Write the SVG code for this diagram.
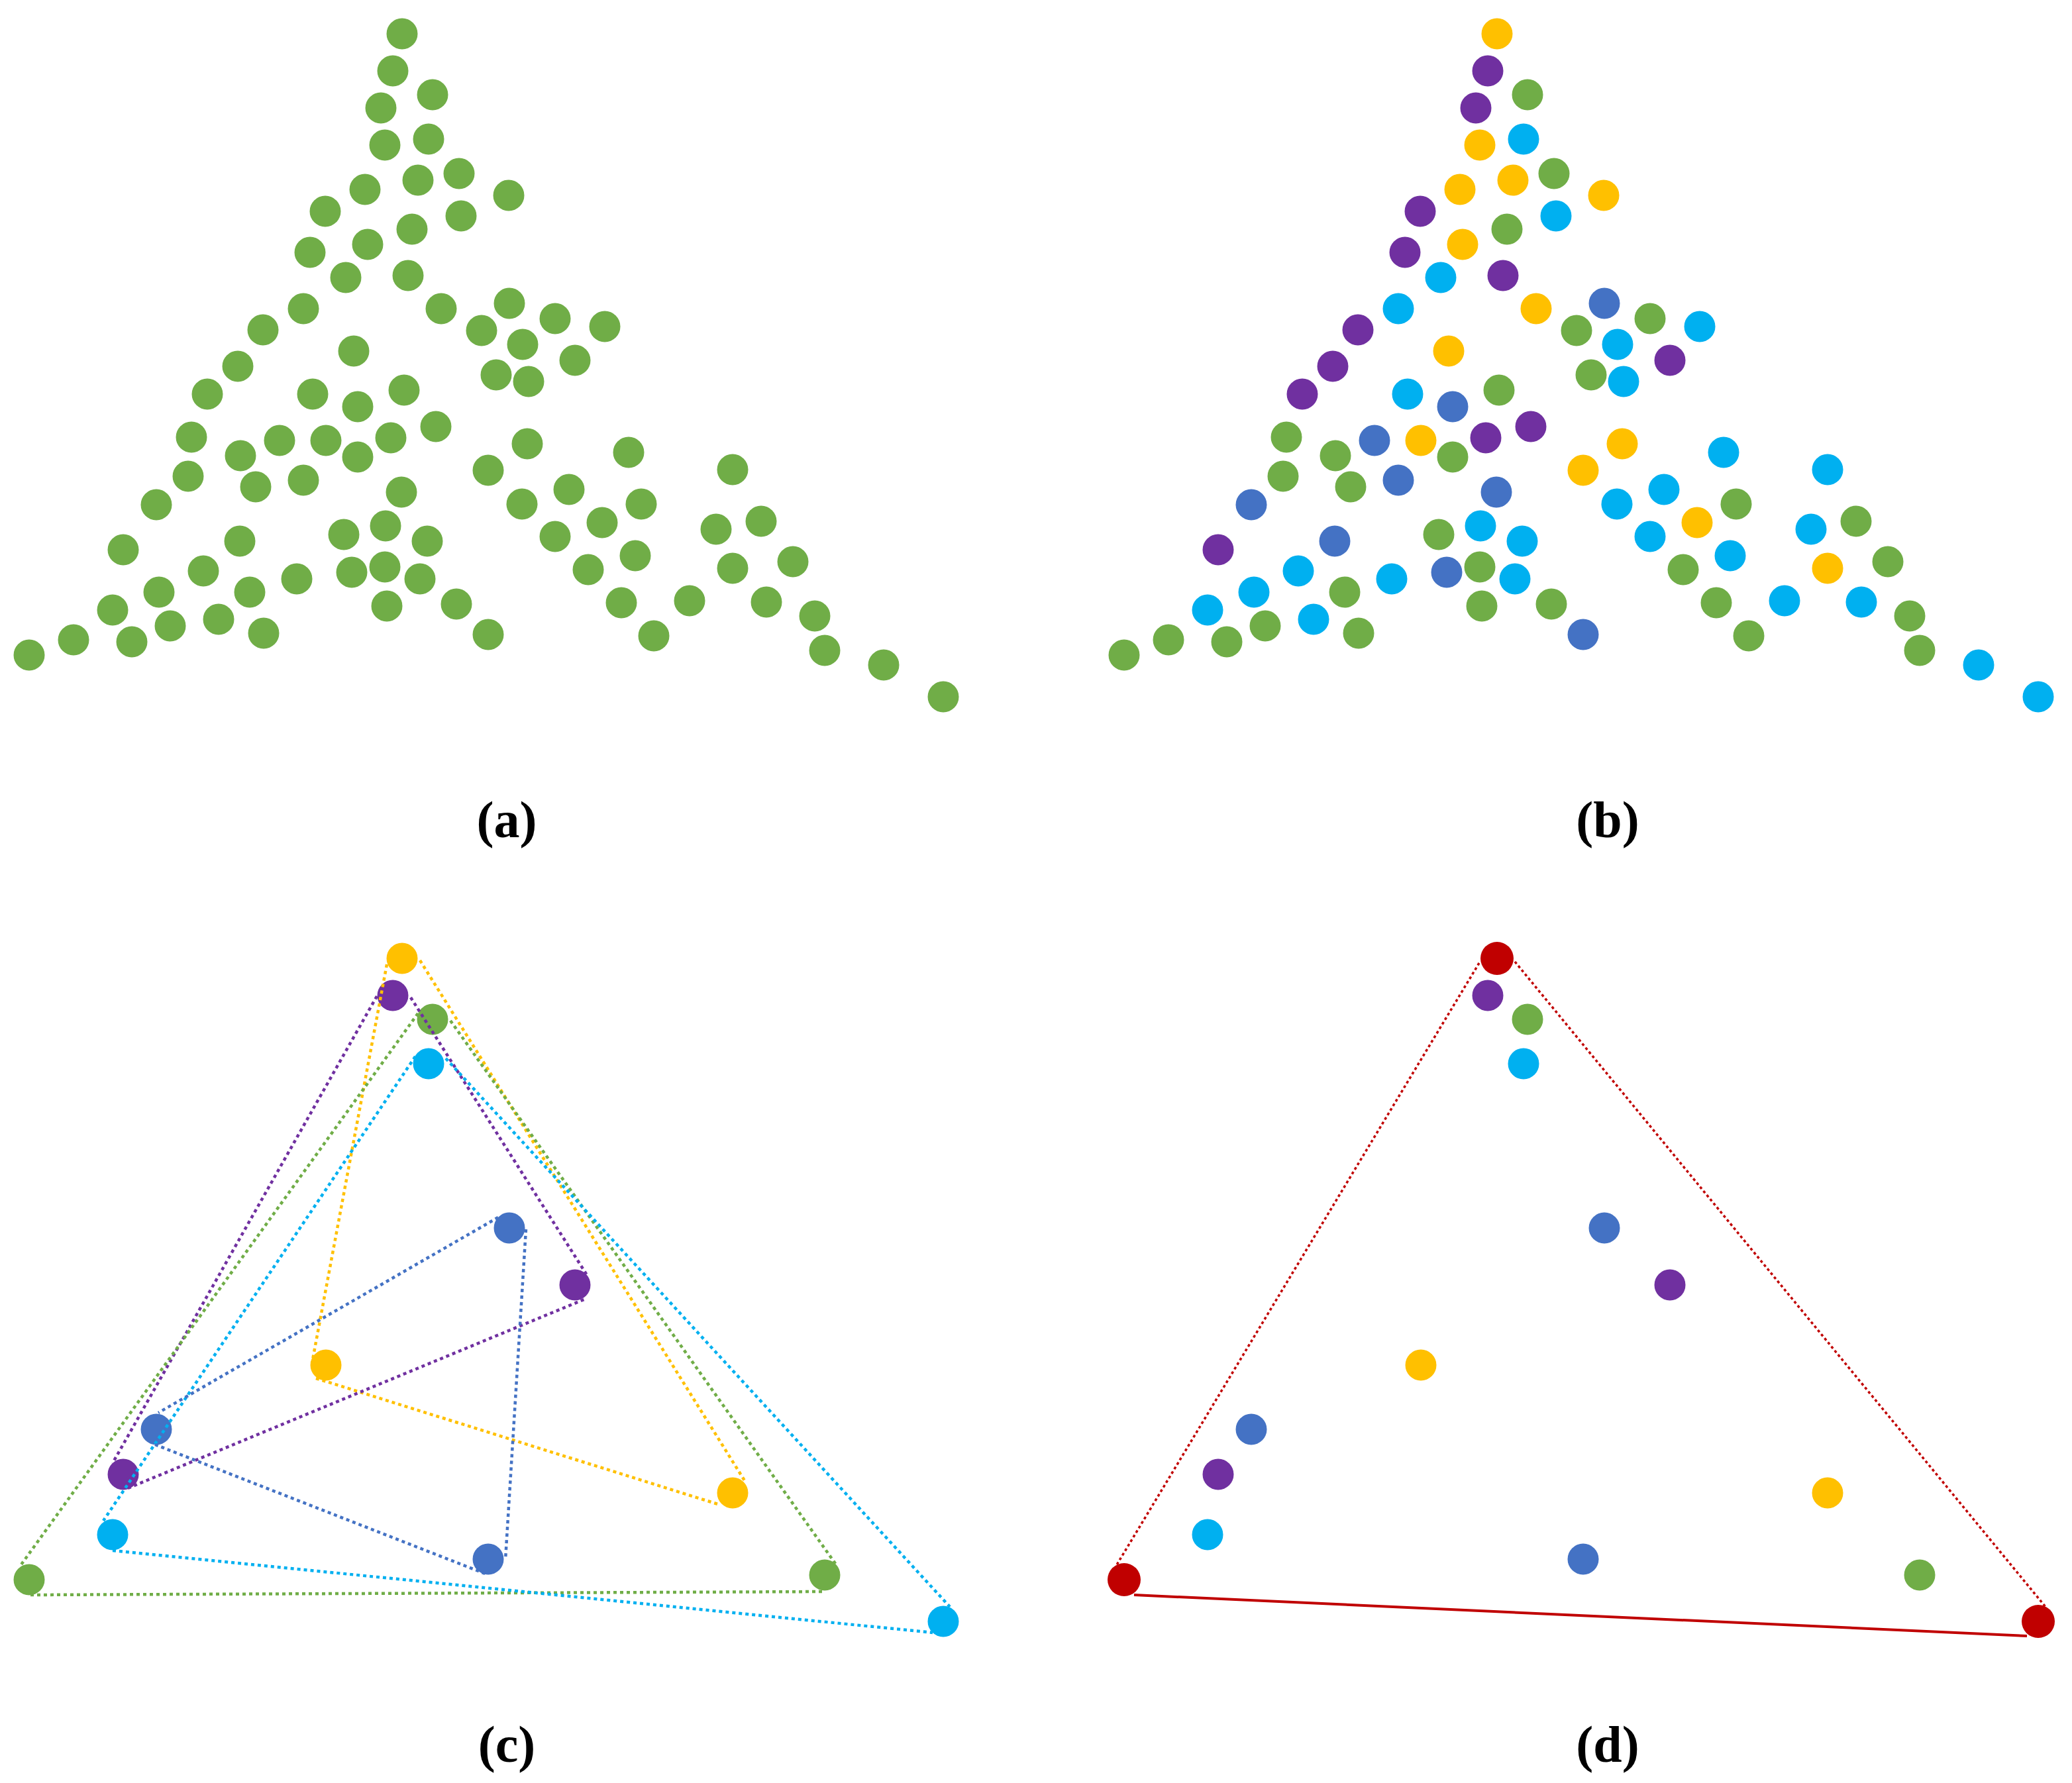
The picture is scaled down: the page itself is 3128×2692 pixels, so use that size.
<svg xmlns="http://www.w3.org/2000/svg" width="3128" height="2692" viewBox="0 0 3128 2692">
<style>
.g{fill:#70AD47}.y{fill:#FFC000}.p{fill:#7030A0}.c{fill:#00B0F0}.b{fill:#4472C4}.r{fill:#C00000}
circle{stroke:none}
.ln{fill:none;stroke-width:4.5;stroke-dasharray:5 5}
.lbl{font-family:"Liberation Serif","Times New Roman",serif;font-weight:bold;font-size:78px;text-anchor:middle;fill:#000}
</style>
<defs>
<circle id="d" r="23.5"/>
</defs>
<rect width="3128" height="2692" fill="#fff"/>

<g id="panel-a" class="g" transform="translate(-1653,0)">
<g id="a1"><use href="#d" x="2260" y="51"/></g>
<g id="a2"><use href="#d" x="2246" y="107"/></g>
<g id="a3"><use href="#d" x="2306" y="143"/></g>
<g id="a4"><use href="#d" x="2228" y="163"/></g>
<g id="a5"><use href="#d" x="2234" y="219"/></g>
<g id="a6"><use href="#d" x="2300" y="210"/></g>
<g id="a7"><use href="#d" x="2346" y="262"/></g>
<g id="a8"><use href="#d" x="2284" y="272"/></g>
<g id="a9"><use href="#d" x="2204" y="286"/></g>
<g id="a10"><use href="#d" x="2144" y="319"/></g>
<g id="a11"><use href="#d" x="2349" y="326"/></g>
<g id="a12"><use href="#d" x="2275" y="346"/></g>
<g id="a13"><use href="#d" x="2208" y="369"/></g>
<g id="a14"><use href="#d" x="2121" y="381"/></g>
<g id="a15"><use href="#d" x="2175" y="419"/></g>
<g id="a16"><use href="#d" x="2269" y="416"/></g>
<g id="a17"><use href="#d" x="2319" y="466"/></g>
<g id="a18"><use href="#d" x="2111" y="466"/></g>
<g id="a19"><use href="#d" x="2050" y="498"/></g>
<g id="a20"><use href="#d" x="2380" y="499"/></g>
<g id="a21"><use href="#d" x="2187" y="530"/></g>
<g id="a22"><use href="#d" x="2012" y="553"/></g>
<g id="a23"><use href="#d" x="2421" y="295"/></g>
<g id="a24"><use href="#d" x="2422" y="458"/></g>
<g id="a25"><use href="#d" x="2491" y="481"/></g>
<g id="a26"><use href="#d" x="2566" y="493"/></g>
<g id="a27"><use href="#d" x="2442" y="520"/></g>
<g id="a28"><use href="#d" x="2521" y="544"/></g>
<g id="a29"><use href="#d" x="2402" y="566"/></g>
<g id="a30"><use href="#d" x="2451" y="576"/></g>
<g id="a31"><use href="#d" x="1966" y="595"/></g>
<g id="a32"><use href="#d" x="2125" y="595"/></g>
<g id="a33"><use href="#d" x="2263" y="589"/></g>
<g id="a34"><use href="#d" x="2193" y="614"/></g>
<g id="a35"><use href="#d" x="2311" y="644"/></g>
<g id="a36"><use href="#d" x="1942" y="660"/></g>
<g id="a37"><use href="#d" x="2016" y="688"/></g>
<g id="a38"><use href="#d" x="2075" y="665"/></g>
<g id="a39"><use href="#d" x="2145" y="665"/></g>
<g id="a40"><use href="#d" x="2243" y="661"/></g>
<g id="a41"><use href="#d" x="2193" y="690"/></g>
<g id="a42"><use href="#d" x="2390" y="710"/></g>
<g id="a43"><use href="#d" x="1937" y="719"/></g>
<g id="a44"><use href="#d" x="2039" y="735"/></g>
<g id="a45"><use href="#d" x="2111" y="725"/></g>
<g id="a46"><use href="#d" x="2259" y="743"/></g>
<g id="a47"><use href="#d" x="1889" y="762"/></g>
<g id="a48"><use href="#d" x="2172" y="807"/></g>
<g id="a49"><use href="#d" x="2235" y="794"/></g>
<g id="a50"><use href="#d" x="2298" y="817"/></g>
<g id="a51"><use href="#d" x="1839" y="830"/></g>
<g id="a52"><use href="#d" x="2015" y="817"/></g>
<g id="a53"><use href="#d" x="1960" y="862"/></g>
<g id="a54"><use href="#d" x="2184" y="864"/></g>
<g id="a55"><use href="#d" x="2234" y="856"/></g>
<g id="a56"><use href="#d" x="2287" y="874"/></g>
<g id="a57"><use href="#d" x="2101" y="874"/></g>
<g id="a58"><use href="#d" x="1893" y="894"/></g>
<g id="a59"><use href="#d" x="2030" y="894"/></g>
<g id="a60"><use href="#d" x="1823" y="921"/></g>
<g id="a61"><use href="#d" x="2342" y="912"/></g>
<g id="a62"><use href="#d" x="2237" y="915"/></g>
<g id="a63"><use href="#d" x="1910" y="945"/></g>
<g id="a64"><use href="#d" x="1983" y="935"/></g>
<g id="a65"><use href="#d" x="2390" y="958"/></g>
<g id="a66"><use href="#d" x="2051" y="956"/></g>
<g id="a67"><use href="#d" x="1764" y="966"/></g>
<g id="a68"><use href="#d" x="1852" y="969"/></g>
<g id="a69"><use href="#d" x="1697" y="989"/></g>
<g id="a70"><use href="#d" x="2449" y="670"/></g>
<g id="a71"><use href="#d" x="2602" y="683"/></g>
<g id="a72"><use href="#d" x="2759" y="709"/></g>
<g id="a73"><use href="#d" x="2512" y="739"/></g>
<g id="a74"><use href="#d" x="2621" y="761"/></g>
<g id="a75"><use href="#d" x="2441" y="761"/></g>
<g id="a76"><use href="#d" x="2562" y="789"/></g>
<g id="a77"><use href="#d" x="2734" y="799"/></g>
<g id="a78"><use href="#d" x="2802" y="787"/></g>
<g id="a79"><use href="#d" x="2491" y="810"/></g>
<g id="a80"><use href="#d" x="2612" y="839"/></g>
<g id="a81"><use href="#d" x="2541" y="860"/></g>
<g id="a82"><use href="#d" x="2759" y="858"/></g>
<g id="a83"><use href="#d" x="2850" y="848"/></g>
<g id="a84"><use href="#d" x="2591" y="910"/></g>
<g id="a85"><use href="#d" x="2694" y="907"/></g>
<g id="a86"><use href="#d" x="2810" y="909"/></g>
<g id="a87"><use href="#d" x="2883" y="930"/></g>
<g id="a88"><use href="#d" x="2640" y="960"/></g>
<g id="a89"><use href="#d" x="2898" y="982"/></g>
<g id="a90"><use href="#d" x="2987" y="1004"/></g>
<g id="a91"><use href="#d" x="3077" y="1052"/></g>
</g>

<g id="panel-b">
<g id="b1" class="y"><use href="#d" x="2260" y="51"/></g>
<g id="b2" class="p"><use href="#d" x="2246" y="107"/></g>
<g id="b3" class="g"><use href="#d" x="2306" y="143"/></g>
<g id="b4" class="p"><use href="#d" x="2228" y="163"/></g>
<g id="b5" class="y"><use href="#d" x="2234" y="219"/></g>
<g id="b6" class="c"><use href="#d" x="2300" y="210"/></g>
<g id="b7" class="g"><use href="#d" x="2346" y="262"/></g>
<g id="b8" class="y"><use href="#d" x="2284" y="272"/></g>
<g id="b9" class="y"><use href="#d" x="2204" y="286"/></g>
<g id="b10" class="p"><use href="#d" x="2144" y="319"/></g>
<g id="b11" class="c"><use href="#d" x="2349" y="326"/></g>
<g id="b12" class="g"><use href="#d" x="2275" y="346"/></g>
<g id="b13" class="y"><use href="#d" x="2208" y="369"/></g>
<g id="b14" class="p"><use href="#d" x="2121" y="381"/></g>
<g id="b15" class="c"><use href="#d" x="2175" y="419"/></g>
<g id="b16" class="p"><use href="#d" x="2269" y="416"/></g>
<g id="b17" class="y"><use href="#d" x="2319" y="466"/></g>
<g id="b18" class="c"><use href="#d" x="2111" y="466"/></g>
<g id="b19" class="p"><use href="#d" x="2050" y="498"/></g>
<g id="b20" class="g"><use href="#d" x="2380" y="499"/></g>
<g id="b21" class="y"><use href="#d" x="2187" y="530"/></g>
<g id="b22" class="p"><use href="#d" x="2012" y="553"/></g>
<g id="b23" class="y"><use href="#d" x="2421" y="295"/></g>
<g id="b24" class="b"><use href="#d" x="2422" y="458"/></g>
<g id="b25" class="g"><use href="#d" x="2491" y="481"/></g>
<g id="b26" class="c"><use href="#d" x="2566" y="493"/></g>
<g id="b27" class="c"><use href="#d" x="2442" y="520"/></g>
<g id="b28" class="p"><use href="#d" x="2521" y="544"/></g>
<g id="b29" class="g"><use href="#d" x="2402" y="566"/></g>
<g id="b30" class="c"><use href="#d" x="2451" y="576"/></g>
<g id="b31" class="p"><use href="#d" x="1966" y="595"/></g>
<g id="b32" class="c"><use href="#d" x="2125" y="595"/></g>
<g id="b33" class="g"><use href="#d" x="2263" y="589"/></g>
<g id="b34" class="b"><use href="#d" x="2193" y="614"/></g>
<g id="b35" class="p"><use href="#d" x="2311" y="644"/></g>
<g id="b36" class="g"><use href="#d" x="1942" y="660"/></g>
<g id="b37" class="g"><use href="#d" x="2016" y="688"/></g>
<g id="b38" class="b"><use href="#d" x="2075" y="665"/></g>
<g id="b39" class="y"><use href="#d" x="2145" y="665"/></g>
<g id="b40" class="p"><use href="#d" x="2243" y="661"/></g>
<g id="b41" class="g"><use href="#d" x="2193" y="690"/></g>
<g id="b42" class="y"><use href="#d" x="2390" y="710"/></g>
<g id="b43" class="g"><use href="#d" x="1937" y="719"/></g>
<g id="b44" class="g"><use href="#d" x="2039" y="735"/></g>
<g id="b45" class="b"><use href="#d" x="2111" y="725"/></g>
<g id="b46" class="b"><use href="#d" x="2259" y="743"/></g>
<g id="b47" class="b"><use href="#d" x="1889" y="762"/></g>
<g id="b48" class="g"><use href="#d" x="2172" y="807"/></g>
<g id="b49" class="c"><use href="#d" x="2235" y="794"/></g>
<g id="b50" class="c"><use href="#d" x="2298" y="817"/></g>
<g id="b51" class="p"><use href="#d" x="1839" y="830"/></g>
<g id="b52" class="b"><use href="#d" x="2015" y="817"/></g>
<g id="b53" class="c"><use href="#d" x="1960" y="862"/></g>
<g id="b54" class="b"><use href="#d" x="2184" y="864"/></g>
<g id="b55" class="g"><use href="#d" x="2234" y="856"/></g>
<g id="b56" class="c"><use href="#d" x="2287" y="874"/></g>
<g id="b57" class="c"><use href="#d" x="2101" y="874"/></g>
<g id="b58" class="c"><use href="#d" x="1893" y="894"/></g>
<g id="b59" class="g"><use href="#d" x="2030" y="894"/></g>
<g id="b60" class="c"><use href="#d" x="1823" y="921"/></g>
<g id="b61" class="g"><use href="#d" x="2342" y="912"/></g>
<g id="b62" class="g"><use href="#d" x="2237" y="915"/></g>
<g id="b63" class="g"><use href="#d" x="1910" y="945"/></g>
<g id="b64" class="c"><use href="#d" x="1983" y="935"/></g>
<g id="b65" class="b"><use href="#d" x="2390" y="958"/></g>
<g id="b66" class="g"><use href="#d" x="2051" y="956"/></g>
<g id="b67" class="g"><use href="#d" x="1764" y="966"/></g>
<g id="b68" class="g"><use href="#d" x="1852" y="969"/></g>
<g id="b69" class="g"><use href="#d" x="1697" y="989"/></g>
<g id="b70" class="y"><use href="#d" x="2449" y="670"/></g>
<g id="b71" class="c"><use href="#d" x="2602" y="683"/></g>
<g id="b72" class="c"><use href="#d" x="2759" y="709"/></g>
<g id="b73" class="c"><use href="#d" x="2512" y="739"/></g>
<g id="b74" class="g"><use href="#d" x="2621" y="761"/></g>
<g id="b75" class="c"><use href="#d" x="2441" y="761"/></g>
<g id="b76" class="y"><use href="#d" x="2562" y="789"/></g>
<g id="b77" class="c"><use href="#d" x="2734" y="799"/></g>
<g id="b78" class="g"><use href="#d" x="2802" y="787"/></g>
<g id="b79" class="c"><use href="#d" x="2491" y="810"/></g>
<g id="b80" class="c"><use href="#d" x="2612" y="839"/></g>
<g id="b81" class="g"><use href="#d" x="2541" y="860"/></g>
<g id="b82" class="y"><use href="#d" x="2759" y="858"/></g>
<g id="b83" class="g"><use href="#d" x="2850" y="848"/></g>
<g id="b84" class="g"><use href="#d" x="2591" y="910"/></g>
<g id="b85" class="c"><use href="#d" x="2694" y="907"/></g>
<g id="b86" class="c"><use href="#d" x="2810" y="909"/></g>
<g id="b87" class="g"><use href="#d" x="2883" y="930"/></g>
<g id="b88" class="g"><use href="#d" x="2640" y="960"/></g>
<g id="b89" class="g"><use href="#d" x="2898" y="982"/></g>
<g id="b90" class="c"><use href="#d" x="2987" y="1004"/></g>
<g id="b91" class="c"><use href="#d" x="3077" y="1052"/></g>
</g>

<g id="panel-c">
<g id="c1" class="y"><use href="#d" x="607" y="1447"/></g>
<g id="c2" class="p"><use href="#d" x="593" y="1503"/></g>
<g id="c3" class="g"><use href="#d" x="653" y="1539"/></g>
<g id="c4" class="c"><use href="#d" x="647" y="1606"/></g>
<g id="c5" class="b"><use href="#d" x="769" y="1854"/></g>
<g id="c6" class="p"><use href="#d" x="868" y="1940"/></g>
<g id="c7" class="y"><use href="#d" x="492" y="2061"/></g>
<g id="c8" class="b"><use href="#d" x="236" y="2158"/></g>
<g id="c9" class="p"><use href="#d" x="186" y="2226"/></g>
<g id="c10" class="y"><use href="#d" x="1106" y="2254"/></g>
<g id="c11" class="c"><use href="#d" x="170" y="2317"/></g>
<g id="c12" class="b"><use href="#d" x="737" y="2354"/></g>
<g id="c13" class="g"><use href="#d" x="44" y="2385"/></g>
<g id="c14" class="g"><use href="#d" x="1245" y="2378"/></g>
<g id="c15" class="c"><use href="#d" x="1424" y="2448"/></g>
</g>

<g id="panel-d">
<g id="d2" class="p"><use href="#d" x="2246" y="1503"/></g>
<g id="d3" class="g"><use href="#d" x="2306" y="1539"/></g>
<g id="d4" class="c"><use href="#d" x="2300" y="1606"/></g>
<g id="d5" class="b"><use href="#d" x="2422" y="1854"/></g>
<g id="d6" class="p"><use href="#d" x="2521" y="1940"/></g>
<g id="d7" class="y"><use href="#d" x="2145" y="2061"/></g>
<g id="d8" class="b"><use href="#d" x="1889" y="2158"/></g>
<g id="d9" class="p"><use href="#d" x="1839" y="2226"/></g>
<g id="d10" class="y"><use href="#d" x="2759" y="2254"/></g>
<g id="d11" class="c"><use href="#d" x="1823" y="2317"/></g>
<g id="d12" class="b"><use href="#d" x="2390" y="2354"/></g>
<g id="d14" class="g"><use href="#d" x="2898" y="2378"/></g>
</g>

<g id="connectors">
<g stroke="#FFC000" class="ln">
<line x1="584" y1="1456" x2="471" y2="2058"/>
<line x1="477" y1="2081" x2="1087" y2="2272"/>
<line x1="634" y1="1450" x2="1125" y2="2237"/>
</g>
<g stroke="#7030A0" class="ln">
<line x1="569" y1="1504" x2="170" y2="2209"/>
<line x1="620" y1="1506" x2="886" y2="1925"/>
<line x1="193" y1="2247" x2="884" y2="1961"/>
</g>
<g stroke="#70AD47" class="ln">
<line x1="631" y1="1530" x2="30" y2="2365"/>
<line x1="680" y1="1541" x2="1262" y2="2362"/>
<line x1="46" y1="2408" x2="1245" y2="2403"/>
</g>
<g stroke="#00B0F0" class="ln">
<line x1="627" y1="1595" x2="156" y2="2296"/>
<line x1="673" y1="1598" x2="1434" y2="2426"/>
<line x1="170" y1="2341" x2="1408" y2="2465"/>
</g>
<g stroke="#4472C4" class="ln">
<line x1="752" y1="1838" x2="239" y2="2133"/>
<line x1="234" y1="2181" x2="735" y2="2377"/>
<line x1="794" y1="1856" x2="763" y2="2355"/>
</g>
<g stroke="#C00000" fill="none">
<line x1="2233" y1="1454" x2="1685" y2="2364" stroke-width="3.5" stroke-dasharray="4 4"/>
<line x1="2287" y1="1452" x2="3088" y2="2426" stroke-width="3.5" stroke-dasharray="4 4"/>
<line x1="1712" y1="2408" x2="3060" y2="2470" stroke-width="4"/>
</g>
</g>

<g id="panel-d-red">
<g id="d1" class="r"><circle cx="2260" cy="1447" r="25"/></g>
<g id="d13" class="r"><circle cx="1697" cy="2385" r="25"/></g>
<g id="d15" class="r"><circle cx="3077" cy="2448" r="25"/></g>
</g>

<g id="labels">
<text class="lbl" x="765" y="1264">(a)</text>
<text class="lbl" x="2427" y="1264">(b)</text>
<text class="lbl" x="765" y="2660">(c)</text>
<text class="lbl" x="2427" y="2660">(d)</text>
</g>
</svg>
